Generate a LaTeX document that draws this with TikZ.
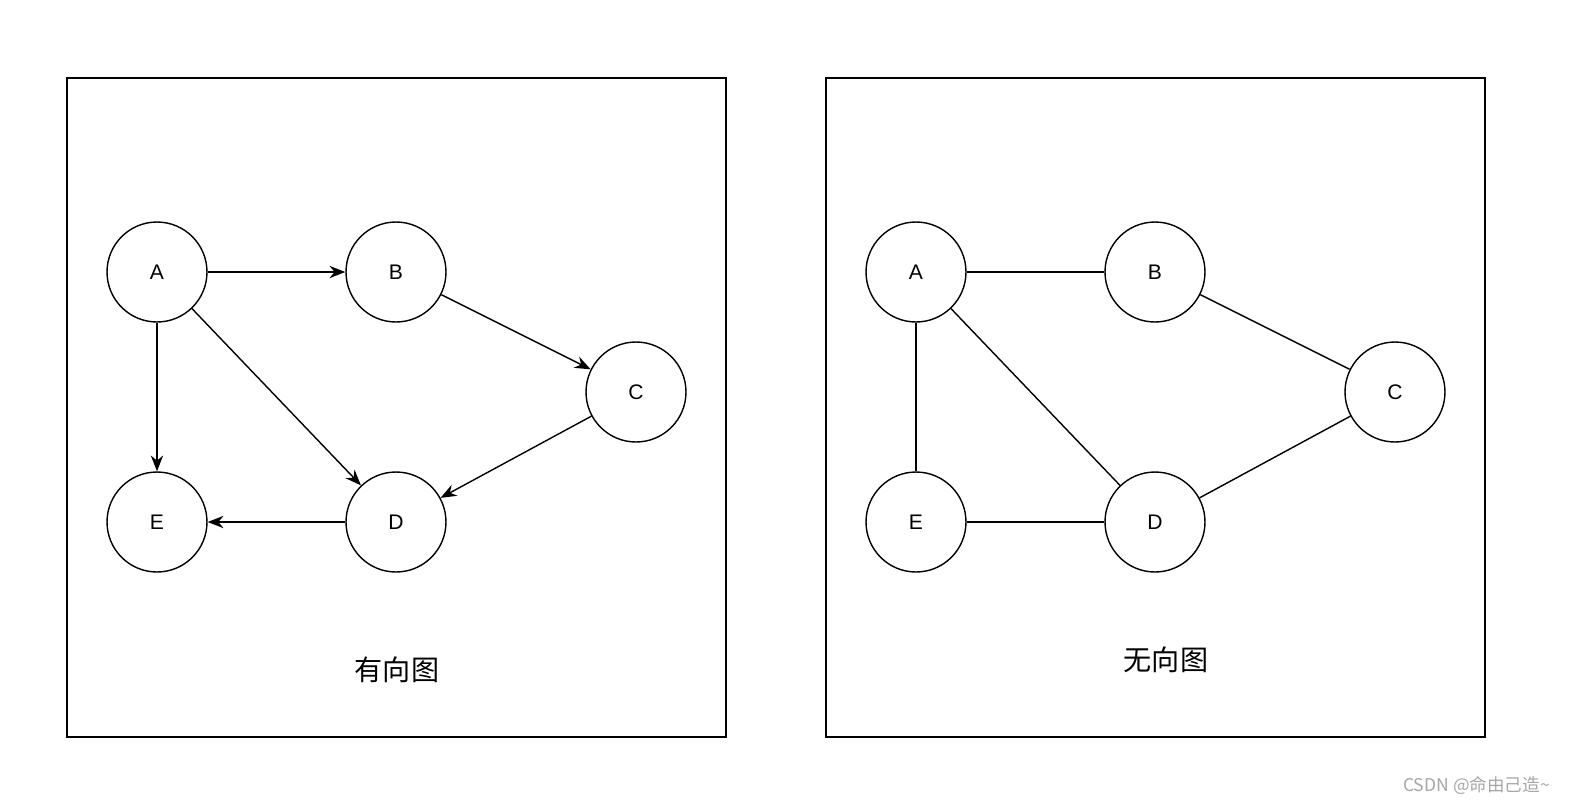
\documentclass[tikz,border=0pt]{standalone}
\usepackage{fontspec}
\setmainfont{Liberation Sans}
\newfontfamily\cjk{Noto Sans CJK SC}
\usetikzlibrary{arrows.meta}
\tikzset{
	vertex/.style={circle, draw=black, thick, minimum size=2cm, inner sep=0pt, font=\fontsize{12}{14}\selectfont},
	edge/.style={-{Stealth[length=9pt,width=7pt]}, thick},
	link/.style={-, thick},
	panel/.style={draw=black, thick}
}
\begin{document}
\begin{tikzpicture}[x=0.02cm, y=-0.02cm]
		\useasboundingbox (0, 0) rectangle (1570, 806);

		% directed graph
		\draw[panel]	(67, 78) rectangle (726, 737);
		\node[vertex] (dA) at (157, 272) {A};
		\node[vertex] (dB) at (396, 272) {B};
		\node[vertex] (dC) at (636, 392) {C};
		\node[vertex] (dD) at (396, 522) {D};
		\node[vertex] (dE) at (157, 522) {E};
		\draw[edge]	(dA) to (dB);
		\draw[edge]	(dB) to (dC);
		\draw[edge]	(dC) to (dD);
		\draw[edge]	(dA) to (dD);
		\draw[edge]	(dA) to (dE);
		\draw[edge]	(dD) to (dE);
		\node[font=\cjk\fontsize{16}{18}\selectfont] (dlabel) at (397, 670) {有向图};

		% undirected graph
		\draw[panel]	(826, 78) rectangle (1485, 737);
		\node[vertex] (uA) at (916, 272) {A};
		\node[vertex] (uB) at (1155, 272) {B};
		\node[vertex] (uC) at (1395, 392) {C};
		\node[vertex] (uD) at (1155, 522) {D};
		\node[vertex] (uE) at (916, 522) {E};
		\draw[link]	(uA) to (uB);
		\draw[link]	(uB) to (uC);
		\draw[link]	(uC) to (uD);
		\draw[link]	(uA) to (uD);
		\draw[link]	(uA) to (uE);
		\draw[link]	(uD) to (uE);
		\node[font=\cjk\fontsize{16}{18}\selectfont] (ulabel) at (1166, 660) {无向图};

		\node[gray!70, font=\cjk\fontsize{10}{12}\selectfont, anchor=east] (mark) at (1556, 786) {CSDN @命由己造\textasciitilde};
	\end{tikzpicture}
\end{document}
